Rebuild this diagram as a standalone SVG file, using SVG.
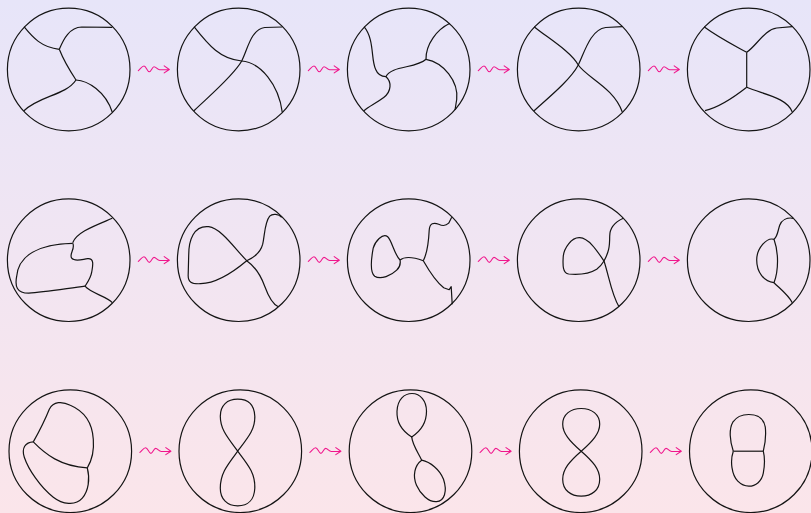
<svg xmlns="http://www.w3.org/2000/svg" xmlns:xlink="http://www.w3.org/1999/xlink" width="811" height="513" viewBox="0 0 811 513">
<defs>
<linearGradient id="bg" x1="0" y1="0" x2="0" y2="1">
<stop offset="0" stop-color="#e7e5f9"/>
<stop offset="0.5" stop-color="#f1e5f2"/>
<stop offset="1" stop-color="#fbe5ea"/>
</linearGradient>
<g id="sq">
<path d="M69.6,1.2 C72,-1 73.5,-3.5 75.3,-3.5 C77.5,-3.5 78.5,2.2 80.6,2.2 C82.5,2.2 83.5,-2.8 85.3,-2.8 C87.5,-2.8 88.5,0.3 91,0.3 L100.6,0 M95.5,-3.6 L100.6,0 L95.5,3.4"/>
</g>
</defs>
<style>
.c{fill:none;stroke:#141414;stroke-width:1.2}
.k path,.k circle{fill:none;stroke:#141414;stroke-width:1.2;stroke-linejoin:round}
.a{fill:none;stroke:#f0168c;stroke-width:1.1;stroke-linecap:round;stroke-linejoin:round}
</style>
<rect x="0" y="0" width="811" height="513" fill="url(#bg)"/>

<!-- Row 1 -->
<g id="r1c1" class="k" transform="translate(68.7,69.5)">
<circle r="61.3"/>
<path d="M-44.7,-42.8 C-36,-32 -27,-22 -9.4,-20.2"/>
<path d="M-9.4,-20.2 C-5,-31 1,-42 13,-42.5 L43.6,-42.2"/>
<path d="M-9.4,-20.2 C-5,-9 1,1 7.3,10.5"/>
<path d="M7.3,10.5 C-3,26 -29,26 -44.7,41.2"/>
<path d="M7.3,10.5 C19,11 37,22 43.6,42.8"/>
</g>
<g id="r1c2" class="k" transform="translate(238.7,69.5)">
<circle r="61.3"/>
<path d="M-44.7,-42.8 C-30,-24 -18,-10 3,-8.5 C22,-7 40,15 43.6,42.8"/>
<path d="M-44.7,41.2 C-30,27 -5,6 3,-8.5 C9,-20 12,-40 26,-42 L43.6,-42.5"/>
</g>
<g id="r1c3" class="k" transform="translate(408.7,69.5)">
<circle r="61.3"/>
<path d="M-44.7,-42.8 C-34,-30 -38,-10 -33,0 C-31,5 -27,7 -22.7,7.2"/>
<path d="M-22.7,7.2 C-18,-4 8,-1 17.3,-10.2"/>
<path d="M-22.7,7.2 C-17,12 -17,22 -25,28 C-33,34 -40,37 -44.7,41.2"/>
<path d="M17.3,-10.2 C17,-25 28,-40 41.3,-46.2"/>
<path d="M17.3,-10.2 C35,-7 50,12 48,30 L46.3,40.5"/>
</g>
<g id="r1c4" class="k" transform="translate(578.7,69.5)">
<circle r="61.3"/>
<path d="M-44.7,-42.8 C-30,-31 -8,-18 -0.4,-4.5 C8,8 35,18 43.6,42.5"/>
<path d="M-44.7,41.2 C-30,28 -8,10 -0.4,-4.5 C6,-18 12,-40 27,-42 L43.6,-42.8"/>
</g>
<g id="r1c5" class="k" transform="translate(748.7,69.5)">
<circle r="61.3"/>
<path d="M-44.7,-42.8 C-30,-32 -16,-25 -2,-17.2"/>
<path d="M-2,-17.2 C8,-24 16,-40 28,-41.5 L43.6,-42.8"/>
<path d="M-2,-17.2 L-2,17.8"/>
<path d="M-2,17.8 C-15,28 -30,38 -43.7,41.2"/>
<path d="M-2,17.8 C15,25 38,28 43.6,42.5"/>
</g>

<!-- Row 2 -->
<g id="r2c1" class="k" transform="translate(68.7,260.2)">
<circle r="61.3"/>
<path d="M43.6,-41.9 C25,-34 8,-28 4,-17.5"/>
<path d="M4,-16.9 C-30,-16 -50,-5 -52,16 C-54,26 -52,33 -40,33 C-25,32 0,28 16.3,26"/>
<path d="M4,-16.9 C7,-12 0,-6 3,-2 C6,2 14,-1 19,-1.5 C26,-2 24,6 23,12 C22,18 19,22 16.3,26"/>
<path d="M16.3,26 C22,33 38,36 43.6,42.5"/>
</g>
<g id="r2c2" class="k" transform="translate(238.7,260.2)">
<circle r="61.3"/>
<path d="M8,0.5 C-5,-13 -18,-32 -30,-33.5 C-45,-35 -50,-20 -50,-5 L-50.5,14 C-51,22 -47,24 -38,23.5 C-25,23 -8,14 8,0.5 Z"/>
<path d="M43,-42.9 C40,-46 34,-47 31,-44 C26,-38 26,-25 24,-16 C22,-8 16,-3 8,0.5 C16,6 22,15 26,26 C30,37 34,44 39.6,46.5"/>
</g>
<g id="r2c3" class="k" transform="translate(408.7,260.2)">
<circle r="61.3"/>
<path d="M-8.7,-0.2 C-14,-5 -17,-20 -21,-23.5 C-26,-28 -34,-18 -35.5,-12 C-37,-4 -39,12 -34,16 C-28,20 -17,15 -12,10 C-9,7 -8,3 -8.7,-0.2 Z"/>
<path d="M-8.7,-0.2 C-4,-4 5,-3 14.6,0.5"/>
<path d="M14.6,0.5 C19,-8 20,-20 20.5,-30 C21,-37 25,-38 30,-36 C34,-34 37,-34 40,-37 L43,-42.9"/>
<path d="M14.6,0.5 C20,10 28,22 35,27.5 L40.5,29.5 L42.5,26.5 L43.5,44"/>
</g>
<g id="r2c4" class="k" transform="translate(578.7,260.2)">
<circle r="61.3"/>
<path d="M25.3,0.8 C18,-10 10,-22 1,-22.5 C-7,-23 -15,-12 -15.5,-3 C-16,5 -16,13 -10,13.8 C-2,14.5 10,14 18,9 C22,6 24,3 25.3,0.8 Z"/>
<path d="M44.6,-41.9 C36,-38 31,-32 31,-24 C31,-13 30,-8 25.3,0.8 C30,15 33,35 40.3,46.5"/>
</g>
<g id="r2c5" class="k" transform="translate(748.7,260.2)">
<circle r="61.3"/>
<path d="M44.6,-41.9 C38,-43 33,-40 31,-35 C29,-29 29,-24 25.3,-20.9"/>
<path d="M25.3,-20.9 C30,-8 30,10 25.3,22.5"/>
<path d="M25.3,-20.9 C18,-23 8,-12 8,-0.2 C8,12 15,21 25.3,22.5"/>
<path d="M25.3,22.5 C32,29 40,35 43.6,42.5"/>
</g>

<!-- Row 3 -->
<g id="r3c1" class="k" transform="translate(70.3,451.2)">
<circle r="61.3"/>
<path d="M-37,-9.3 C-31,-20 -25,-32 -21,-42 C-17,-50 -8,-50 0,-46 C14,-40 22,-28 23,-12 C24,0 21,10 17,16.7"/>
<path d="M-37,-9.3 C-25,3 -10,15 17,16.7"/>
<path d="M-37,-9.3 C-45,-9 -49,-3 -46,6 C-42,18 -30,36 -17,46 C-8,53 5,55 12,47 C18,40 20,28 17,16.7"/>
</g>
<g id="r3c2" class="k" transform="translate(240.3,451.2)">
<circle r="61.3"/>
<path d="M-2.6,0 C8,-14 15,-22 14.5,-35 C14,-46 8,-52 -2.6,-52 C-13,-52 -20,-46 -20,-35 C-20,-22 -13,-14 -2.6,0 C8,14 15,22 14.5,37 C14,48 8,54.7 -2.6,54.7 C-13,54.7 -20,48 -20,37 C-20,22 -13,14 -2.6,0 Z"/>
</g>
<g id="r3c3" class="k" transform="translate(410.5,451.2)">
<circle r="61.3"/>
<path d="M1.2,-14.3 C-8,-20 -14,-28 -13.5,-40 C-13,-52 -6,-57.7 1.5,-57.7 C10,-57.7 16,-50 16,-40 C16,-28 10,-20 1.2,-14.3 Z"/>
<path d="M1.2,-14.3 C2,-6 8,2 11.2,9"/>
<path d="M11.2,9 C4,14 2,25 6,34 C10,43 18,51 26,50.5 C34,50 37,40 33,28 C29,18 20,11 11.2,9 Z"/>
</g>
<g id="r3c4" class="k" transform="translate(580.7,451.2)">
<circle r="61.3"/>
<path d="M0.5,0 C12,-10 19,-18 19,-27 C19,-37 11,-42.7 0.5,-42.7 C-10,-42.7 -18,-37 -18,-27 C-18,-18 -11,-10 0.5,0 C12,10 19,18 19,28 C19,39 11,45 0.5,45 C-10,45 -18,39 -18,28 C-18,18 -11,10 0.5,0 Z"/>
</g>
<g id="r3c5" class="k" transform="translate(750.8,451.2)">
<circle r="61.3"/>
<path d="M-17.5,0 C-21,-10 -22,-22 -18,-29 C-14,-35 -9,-36.7 -2,-36.7 C6,-36.7 13,-33 14.5,-24 C15.5,-15 14,-6 12.5,0"/>
<path d="M-17.5,0 C-21,10 -19,24 -13,30 C-9,34 -6,35 -2,35 C5,35 11,30 12.5,22 C14,14 14,6 12.5,0"/>
<path d="M-17.5,0 L12.5,0"/>
</g>

<!-- Connectors -->
<g id="connectors" class="a">
<use xlink:href="#sq" transform="translate(68.7,69.5)"/>
<use xlink:href="#sq" transform="translate(238.7,69.5)"/>
<use xlink:href="#sq" transform="translate(408.7,69.5)"/>
<use xlink:href="#sq" transform="translate(578.7,69.5)"/>
<use xlink:href="#sq" transform="translate(68.7,260.2)"/>
<use xlink:href="#sq" transform="translate(238.7,260.2)"/>
<use xlink:href="#sq" transform="translate(408.7,260.2)"/>
<use xlink:href="#sq" transform="translate(578.7,260.2)"/>
<use xlink:href="#sq" transform="translate(70.3,451.2)"/>
<use xlink:href="#sq" transform="translate(240.3,451.2)"/>
<use xlink:href="#sq" transform="translate(410.5,451.2)"/>
<use xlink:href="#sq" transform="translate(580.7,451.2)"/>
</g>
</svg>
